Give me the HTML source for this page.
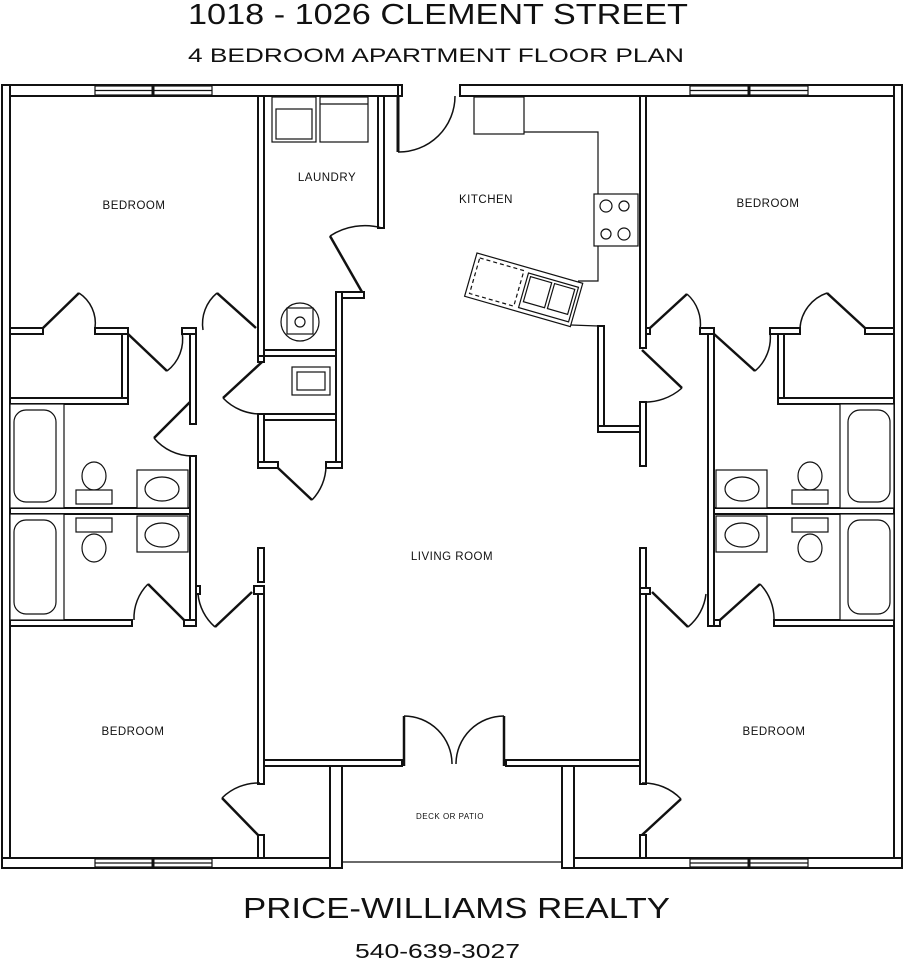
<!DOCTYPE html>
<html><head><meta charset="utf-8"><style>
html,body{margin:0;padding:0;background:#fff;width:904px;height:960px;overflow:hidden}
svg{display:block}
text{font-family:"Liberation Sans",sans-serif;fill:#111}
</style></head><body>
<svg width="904" height="960" viewBox="0 0 904 960" xmlns="http://www.w3.org/2000/svg">
<g fill="none" stroke="#111">
<!-- text -->
</g>
<text x="188" y="24" font-size="29" textLength="500" lengthAdjust="spacingAndGlyphs">1018 - 1026 CLEMENT STREET</text>
<text x="188" y="62" font-size="19" textLength="496" lengthAdjust="spacingAndGlyphs">4 BEDROOM APARTMENT FLOOR PLAN</text>
<text x="243" y="918" font-size="29" textLength="427" lengthAdjust="spacingAndGlyphs">PRICE-WILLIAMS REALTY</text>
<text x="355" y="958" font-size="20" textLength="165" lengthAdjust="spacingAndGlyphs">540-639-3027</text>

<g font-size="11.5" text-anchor="middle" letter-spacing="0.5">
<text x="134" y="209">BEDROOM</text>
<text x="327" y="181">LAUNDRY</text>
<text x="486" y="203">KITCHEN</text>
<text x="768" y="207">BEDROOM</text>
<text x="452" y="560">LIVING ROOM</text>
<text x="133" y="735">BEDROOM</text>
<text x="774" y="735">BEDROOM</text>
<text x="450" y="819" font-size="8">DECK OR PATIO</text>
</g>

<!-- walls -->
<g fill="#fff" stroke="#111" stroke-width="2">
<rect x="2" y="85" width="396" height="11"/>
<rect x="460" y="85" width="442" height="11"/>
<rect x="2" y="85" width="8" height="783"/>
<rect x="894" y="85" width="8" height="783"/>
<rect x="2" y="858" width="340" height="10"/>
<rect x="562" y="858" width="340" height="10"/>
<rect x="330" y="766" width="12" height="102"/>
<rect x="562" y="766" width="12" height="102"/>
<rect x="264" y="760" width="138" height="6"/>
<rect x="506" y="760" width="140" height="6"/>
<rect x="398" y="85" width="4" height="11"/>
<!-- left interior -->
<rect x="258" y="96" width="6" height="260"/>
<rect x="378" y="96" width="6" height="132"/>
<rect x="340" y="292" width="24" height="6"/>
<rect x="336" y="292" width="6" height="176"/>
<rect x="264" y="350" width="72" height="6"/>
<rect x="258" y="356" width="6" height="6"/>
<rect x="264" y="414" width="72" height="6"/>
<rect x="258" y="414" width="6" height="54"/>
<rect x="258" y="462" width="20" height="6"/>
<rect x="326" y="462" width="16" height="6"/>
<rect x="10" y="328" width="33" height="6"/>
<rect x="95" y="328" width="33" height="6"/>
<rect x="122" y="334" width="6" height="70"/>
<rect x="10" y="398" width="118" height="6"/>
<rect x="182" y="328" width="14" height="6"/>
<rect x="190" y="334" width="6" height="90"/>
<rect x="10" y="508" width="180" height="6"/>
<rect x="190" y="456" width="6" height="170"/>
<rect x="10" y="620" width="122" height="6"/>
<rect x="184" y="620" width="12" height="6"/>
<rect x="196" y="586" width="4" height="8"/>
<rect x="258" y="548" width="6" height="34"/>
<rect x="254" y="586" width="10" height="8"/>
<rect x="258" y="594" width="6" height="190"/>
<rect x="258" y="835" width="6" height="23"/>
<!-- right interior -->
<rect x="640" y="96" width="6" height="252"/>
<rect x="640" y="402" width="6" height="64"/>
<rect x="598" y="326" width="6" height="106"/>
<rect x="598" y="426" width="42" height="6"/>
<rect x="646" y="328" width="4" height="6"/>
<rect x="700" y="328" width="14" height="6"/>
<rect x="708" y="334" width="6" height="292"/>
<rect x="770" y="328" width="30" height="6"/>
<rect x="865" y="328" width="29" height="6"/>
<rect x="778" y="334" width="6" height="70"/>
<rect x="778" y="398" width="116" height="6"/>
<rect x="714" y="508" width="180" height="6"/>
<rect x="714" y="620" width="6" height="6"/>
<rect x="774" y="620" width="120" height="6"/>
<rect x="640" y="548" width="6" height="40"/>
<rect x="640" y="588" width="10" height="6"/>
<rect x="640" y="594" width="6" height="190"/>
<rect x="640" y="835" width="6" height="23"/>
</g>
<!-- windows -->
<g fill="#fff" stroke="#111" stroke-width="1.2">
<rect x="95" y="86" width="117" height="9"/><line x1="153" y1="86" x2="153" y2="95" stroke-width="3"/><line x1="95" y1="90.5" x2="212" y2="90.5"/>
<rect x="690" y="86" width="118" height="9"/><line x1="749" y1="86" x2="749" y2="95" stroke-width="3"/><line x1="690" y1="90.5" x2="808" y2="90.5"/>
<rect x="95" y="859" width="117" height="8"/><line x1="153" y1="859" x2="153" y2="867" stroke-width="3"/><line x1="95" y1="863" x2="212" y2="863"/>
<rect x="690" y="859" width="118" height="8"/><line x1="749" y1="859" x2="749" y2="867" stroke-width="3"/><line x1="690" y1="863" x2="808" y2="863"/>
</g>
<line x1="342" y1="862" x2="562" y2="862" stroke="#111" stroke-width="1.2"/>

<!-- doors -->
<g fill="none" stroke="#111" stroke-width="1.5">
<line x1="398" y1="96" x2="398" y2="152" stroke-width="3"/><path d="M398 152 A56 56 0 0 0 455 96"/>
<line x1="404" y1="716" x2="404" y2="766" stroke-width="2.5"/><path d="M404 716 A48 48 0 0 1 452 764"/>
<line x1="504" y1="716" x2="504" y2="766" stroke-width="2.5"/><path d="M504 716 A48 48 0 0 0 456 764"/>
<!-- laundry door -->
<line x1="362" y1="292" x2="330" y2="236" stroke-width="2.5"/><path d="M330 236 A64 64 0 0 1 382 228"/>
<!-- left bedroom closet doors -->
<line x1="43" y1="328" x2="79" y2="293" stroke-width="2.5"/><path d="M79 293 A36 36 0 0 1 95 328"/>
<line x1="128" y1="334" x2="167" y2="371" stroke-width="2.5"/><path d="M167 371 A40 40 0 0 0 182 332"/>
<line x1="256" y1="328" x2="217" y2="293" stroke-width="2.5"/><path d="M217 293 A40 40 0 0 0 203 330"/>
<!-- linen doors -->
<line x1="262" y1="362" x2="223" y2="398" stroke-width="2.5"/><path d="M223 398 A52 52 0 0 0 262 414"/>
<line x1="278" y1="468" x2="312" y2="500" stroke-width="2.5"/><path d="M312 500 A50 50 0 0 0 326 466"/>
<!-- bath1 door -->
<line x1="190" y1="402" x2="154" y2="438" stroke-width="2.5"/><path d="M154 438 A50 50 0 0 0 192 456"/>
<!-- bath2 door -->
<line x1="184" y1="620" x2="148" y2="584" stroke-width="2.5"/><path d="M148 584 A48 48 0 0 0 134 620"/>
<line x1="252" y1="592" x2="215" y2="627" stroke-width="2.5"/><path d="M215 627 A50 50 0 0 1 198 594"/>
<!-- lower left closet -->
<line x1="258" y1="835" x2="222" y2="798" stroke-width="2.5"/><path d="M222 798 A52 52 0 0 1 260 783"/>
<!-- right kitchen closet -->
<line x1="642" y1="350" x2="682" y2="388" stroke-width="2.5"/><path d="M682 388 A56 56 0 0 1 642 402"/>
<!-- right bedroom doors -->
<line x1="650" y1="328" x2="687" y2="294" stroke-width="2.5"/><path d="M687 294 A40 40 0 0 1 700 330"/>
<line x1="714" y1="334" x2="755" y2="371" stroke-width="2.5"/><path d="M755 371 A44 44 0 0 0 770 332"/>
<line x1="865" y1="328" x2="827" y2="293" stroke-width="2.5"/><path d="M827 293 A40 40 0 0 0 800 328"/>
<!-- right bath2 door / hall door -->
<line x1="720" y1="620" x2="760" y2="584" stroke-width="2.5"/><path d="M760 584 A50 50 0 0 1 774 620"/>
<line x1="652" y1="592" x2="688" y2="627" stroke-width="2.5"/><path d="M688 627 A50 50 0 0 0 706 594"/>
<!-- lower right closet -->
<line x1="642" y1="835" x2="681" y2="799" stroke-width="2.5"/><path d="M681 799 A52 52 0 0 0 642 783"/>
</g>

<!-- fixtures -->
<g fill="#fff" stroke="#111" stroke-width="1.2">
<!-- washer dryer -->
<rect x="272" y="97" width="44" height="45"/><rect x="276" y="109" width="36" height="30"/>
<rect x="320" y="97" width="48" height="45"/><line x1="320" y1="104" x2="368" y2="104"/>
<circle cx="300" cy="322" r="19"/><rect x="287" y="308" width="26" height="26"/><circle cx="300" cy="322" r="5"/>
<rect x="292" y="367" width="38" height="28"/><rect x="297" y="372" width="28" height="18"/>
<!-- baths left -->
<rect x="10" y="404" width="54" height="104"/><rect x="14" y="410" width="42" height="92" rx="12"/>
<rect x="10" y="514" width="54" height="106"/><rect x="14" y="520" width="42" height="94" rx="12"/>
<ellipse cx="94" cy="476" rx="12" ry="14"/><rect x="76" y="490" width="36" height="14"/>
<ellipse cx="94" cy="548" rx="12" ry="14"/><rect x="76" y="518" width="36" height="14"/>
<rect x="137" y="470" width="51" height="38"/><ellipse cx="162" cy="489" rx="17" ry="12"/>
<rect x="137" y="516" width="51" height="36"/><ellipse cx="162" cy="535" rx="17" ry="12"/>
<!-- baths right -->
<rect x="840" y="404" width="54" height="104"/><rect x="848" y="410" width="42" height="92" rx="12"/>
<rect x="840" y="514" width="54" height="106"/><rect x="848" y="520" width="42" height="94" rx="12"/>
<ellipse cx="810" cy="476" rx="12" ry="14"/><rect x="792" y="490" width="36" height="14"/>
<ellipse cx="810" cy="548" rx="12" ry="14"/><rect x="792" y="518" width="36" height="14"/>
<rect x="716" y="470" width="51" height="38"/><ellipse cx="742" cy="489" rx="17" ry="12"/>
<rect x="716" y="516" width="51" height="36"/><ellipse cx="742" cy="535" rx="17" ry="12"/>
<!-- kitchen -->
<rect x="474" y="97" width="50" height="37"/>
<polyline fill="none" points="524,132 598,132 598,194"/>
<polyline fill="none" points="598,246 598,281 578,281"/>
<polyline fill="none" points="571,325 598,326"/>
<rect x="594" y="194" width="44" height="52"/>
<circle cx="606" cy="206" r="6"/><circle cx="624" cy="206" r="5"/><circle cx="606" cy="234" r="5"/><circle cx="624" cy="234" r="6"/>
<g transform="translate(477,253) rotate(16)">
<rect x="0" y="0" width="110" height="45"/>
<rect x="4" y="4" width="46" height="37" stroke-dasharray="4 3"/>
<rect x="55" y="5" width="52" height="36"/>
<rect x="58" y="8" width="22" height="26"/><rect x="83" y="8" width="21" height="26"/>
</g>
</g>
</svg>
</body></html>
